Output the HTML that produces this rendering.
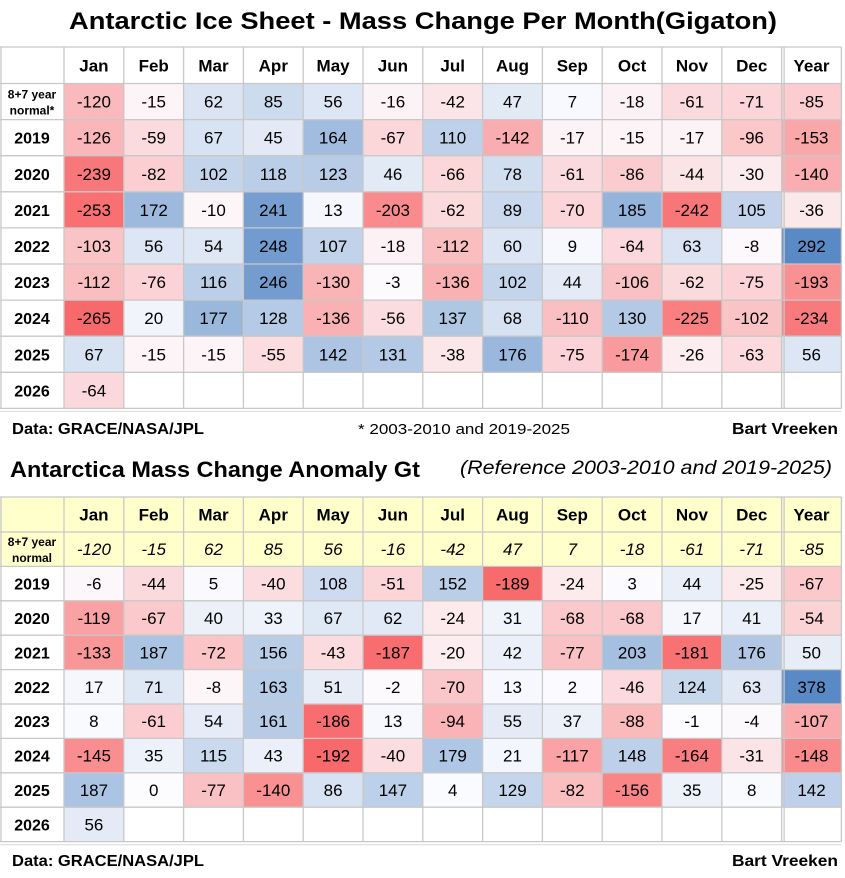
<!DOCTYPE html>
<html><head><meta charset="utf-8">
<style>
html,body{margin:0;padding:0;background:#fff;}
svg{display:block;font-family:"Liberation Sans",Arial,sans-serif;}
</style></head>
<body>
<svg id="chart" width="845" height="878" viewBox="0 0 845 878" xmlns="http://www.w3.org/2000/svg">
<text x="423" y="29" text-anchor="middle" font-size="24" font-weight="bold" textLength="708" lengthAdjust="spacingAndGlyphs">Antarctic Ice Sheet - Mass Change Per Month(Gigaton)</text>
<text x="12" y="434" font-size="16" font-weight="bold" textLength="192" lengthAdjust="spacingAndGlyphs">Data: GRACE/NASA/JPL</text>
<text x="358" y="434" font-size="15" textLength="212" lengthAdjust="spacingAndGlyphs">* 2003-2010 and 2019-2025</text>
<text x="838" y="434" text-anchor="end" font-size="16" font-weight="bold" textLength="106" lengthAdjust="spacingAndGlyphs">Bart Vreeken</text>
<text x="10" y="477" font-size="22" font-weight="bold" textLength="410" lengthAdjust="spacingAndGlyphs">Antarctica Mass Change Anomaly Gt</text>
<text x="832" y="474" text-anchor="end" font-size="19" font-style="italic" textLength="372" lengthAdjust="spacingAndGlyphs">(Reference 2003-2010 and 2019-2025)</text>
<text x="12" y="866" font-size="16" font-weight="bold" textLength="192" lengthAdjust="spacingAndGlyphs">Data: GRACE/NASA/JPL</text>
<text x="838" y="866" text-anchor="end" font-size="16" font-weight="bold" textLength="106" lengthAdjust="spacingAndGlyphs">Bart Vreeken</text>
<g id="tables"></g>
</svg>
<script>
const months = ["Jan","Feb","Mar","Apr","May","Jun","Jul","Aug","Sep","Oct","Nov","Dec","Year"];
const rowLabels = ["8+7 year normal*","2019","2020","2021","2022","2023","2024","2025","2026"];
const topNormal = [-120,-15,62,85,56,-16,-42,47,7,-18,-61,-71,-85];
const top2019 = [-126,-59,67,45,164,-67,110,-142,-17,-15,-17,-96,-153];
const top2020 = [-239,-82,102,118,123,46,-66,78,-61,-86,-44,-30,-140];
const top2021 = [-253,172,-10,241,13,-203,-62,89,-70,185,-242,105,-36];
const top2022 = [-103,56,54,248,107,-18,-112,60,9,-64,63,-8,292];
const top2023 = [-112,-76,116,246,-130,-3,-136,102,44,-106,-62,-75,-193];
const top2024 = [-265,20,177,128,-136,-56,137,68,-110,130,-225,-102,-234];
const top2025 = [67,-15,-15,-55,142,131,-38,176,-75,-174,-26,-63,56];
const top2026 = [-64];
const botNormal = [-120,-15,62,85,56,-16,-42,47,7,-18,-61,-71,-85];
const bot2019 = [-6,-44,5,-40,108,-51,152,-189,-24,3,44,-25,-67];
const bot2020 = [-119,-67,40,33,67,62,-24,31,-68,-68,17,41,-54];
const bot2021 = [-133,187,-72,156,-43,-187,-20,42,-77,203,-181,176,50];
const bot2022 = [17,71,-8,163,51,-2,-70,13,2,-46,124,63,378];
const bot2023 = [8,-61,54,161,-186,13,-94,55,37,-88,-1,-4,-107];
const bot2024 = [-145,35,115,43,-192,-40,179,21,-117,148,-164,-31,-148];
const bot2025 = [187,0,-77,-140,86,147,4,129,-82,-156,35,8,142];
const bot2026 = [56];

const NS="http://www.w3.org/2000/svg";
const g=document.getElementById('tables');
function mk(tag,attrs,parent){const e=document.createElementNS(NS,tag);for(const k in attrs)e.setAttribute(k,attrs[k]);(parent||g).appendChild(e);return e;}
function mix(a,b,t){return 'rgb('+a.map((v,i)=>Math.round(v+(b[i]-v)*t)).join(',')+')';}
const RED=[248,105,107],WHITE=[252,252,255],BLUE=[90,138,198];
function color(v,mn,mx){ if(v>=0) return mix(WHITE,BLUE,mx?v/mx:0); return mix(WHITE,RED,mn?v/mn:0);}
const colX=i=>64+i*59.8;
const colW=59.8;

function drawTable(prefix,rows,top,headH,rowH,opts){
  const all=rows.flat(); const mn=Math.min(...all), mx=Math.max(...all);
  const x0=0,x1=colX(13);
  const bottom=top+headH+rowH*rows.length;
  // header bg
  if(opts.yellow){ mk('rect',{x:x0,y:top,width:x1-x0,height:headH+rowH,fill:'#ffffcc'}); }
  months.forEach((m,i)=>{
    const t=mk('text',{x:colX(i)+colW/2,y:top+headH/2+6,'text-anchor':'middle','font-size':opts.headSize,'font-weight':'bold','font-family':opts.headFont});
    t.textContent=m;
    
    
  });
  rows.forEach((vals,r)=>{
    const y=top+headH+r*rowH;
    vals.forEach((v,i)=>{
      const useColor=!(opts.yellow&&r===0);
      if(useColor){
        const rc=mk('rect',{x:colX(i),y:y,width:colW,height:rowH,fill:color(v,mn,mx)});
        
        
      }
      const t=mk('text',{x:colX(i)+colW/2,y:y+rowH/2+6,'text-anchor':'middle','font-size':17});
      if(opts.yellow&&r===0) t.setAttribute('font-style','italic');
      t.textContent=v;
      
      
    });
    // row label
    if(r===0){
      const a=mk('text',{x:32,y:y+rowH/2-3,'text-anchor':'middle','font-size':12,'font-weight':'bold'}); a.textContent='8+7 year';
      const b=mk('text',{x:32,y:y+rowH/2+13,'text-anchor':'middle','font-size':12,'font-weight':'bold'}); b.textContent=opts.yellow?'normal':'normal*';
      
      
    } else {
      const t=mk('text',{x:32,y:y+rowH/2+6,'text-anchor':'middle','font-size':16,'font-weight':'bold'});
      t.textContent=rowLabels[r];
      
      
    }
  });
  // grid
  const gc='#c8c8c8';
  for(let r=0;r<=rows.length+1;r++){
    const y=r===0?top:top+headH+(r-1)*rowH;
    mk('line',{x1:x0,x2:x1,y1:y,y2:y,stroke:gc,'stroke-width':1.3});
  }
  for(let i=0;i<=13;i++){
    mk('line',{x1:colX(i),x2:colX(i),y1:top,y2:bottom,stroke:gc,'stroke-width':1.3});
  }
  mk('line',{x1:colX(12)+2.5,x2:colX(12)+2.5,y1:top,y2:bottom,stroke:gc,'stroke-width':1.3});
  mk('line',{x1:x0+1,x2:x0+1,y1:top,y2:bottom,stroke:gc,'stroke-width':1.3});
  mk('line',{x1:x0,x2:x1,y1:bottom+3,y2:bottom+3,stroke:'#e0e0e0','stroke-width':1.3});
}
drawTable('top',[topNormal,top2019,top2020,top2021,top2022,top2023,top2024,top2025,top2026],47,36.5,40.1-4,{headSize:17,headFont:'"Liberation Sans",sans-serif'});
drawTable('bottom',[botNormal,bot2019,bot2020,bot2021,bot2022,bot2023,bot2024,bot2025,bot2026],497,35,34.4,{yellow:true,headSize:17,headFont:'"Liberation Sans Narrow","Liberation Sans",sans-serif'});
</script>
</body></html>
